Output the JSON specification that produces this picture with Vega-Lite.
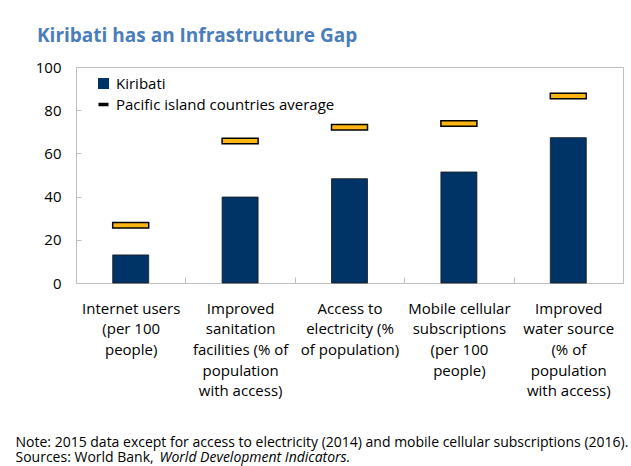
{
  "$schema": "https://vega.github.io/schema/vega-lite/v6.json",
  "autosize": "none",
  "width": 547,
  "height": 216,
  "padding": {"left": 76, "top": 67, "right": 8, "bottom": 183},
  "background": "white",
  "title": {
    "text": "Kiribati has an Infrastructure Gap",
    "anchor": "start",
    "frame": "group",
    "dx": -39,
    "offset": 14,
    "font": "Open Sans",
    "fontSize": 19,
    "fontWeight": "bold",
    "color": "#4A7EBB"
  },
  "config": {
    "font": "Open Sans",
    "view": {"stroke": "#BFBFBF", "strokeWidth": 1},
    "axis": {"labelFont": "Open Sans", "labelColor": "#000", "titleFont": "Open Sans", "titleColor": "#000"},
    "legend": {"labelFont": "Open Sans", "labelColor": "#000", "labelFontSize": 15, "labelLimit": 0, "padding": 0}
  },
  "data": {
    "values": [
      {"indicator": "Internet users (per 100 people)", "kiribati": 13, "pacific": 26.7},
      {"indicator": "Improved sanitation facilities (% of population with access)", "kiribati": 39.8, "pacific": 65.7},
      {"indicator": "Access to electricity (% of population)", "kiribati": 48.3, "pacific": 72.1},
      {"indicator": "Mobile cellular subscriptions (per 100 people)", "kiribati": 51.4, "pacific": 73.8},
      {"indicator": "Improved water source (% of population with access)", "kiribati": 67.3, "pacific": 86.6}
    ]
  },
  "encoding": {
    "x": {
      "field": "indicator",
      "type": "nominal",
      "sort": null,
      "scale": {"paddingInner": 0, "paddingOuter": 0},
      "axis": {
        "title": ["Note: 2015 data except for access to electricity (2014) and mobile cellular subscriptions (2016).", "Sources: World Bank,"],
        "titleFontSize": 14,
        "titleFontWeight": "normal",
        "titleAnchor": "start",
        "titleAlign": "left",
        "titleBaseline": "alphabetic",
        "titleLineHeight": 15.5,
        "titleX": -61,
        "titleY": 163,
        "domain": false,
        "tickBand": "extent",
        "tickSize": -6,
        "tickColor": "#BFBFBF",
        "labelAngle": 0,
        "labelFontSize": 15,
        "labelLineHeight": 20.7,
        "labelPadding": 24,
        "labelBaseline": "top",
        "labelLimit": 0,
        "labelExpr": "{'Internet users (per 100 people)': ['Internet users', '(per 100', 'people)'], 'Improved sanitation facilities (% of population with access)': ['Improved', 'sanitation', 'facilities (% of', 'population', 'with access)'], 'Access to electricity (% of population)': ['Access to', 'electricity (%', 'of population)'], 'Mobile cellular subscriptions (per 100 people)': ['Mobile cellular', 'subscriptions', '(per 100', 'people)'], 'Improved water source (% of population with access)': ['Improved', 'water source', '(% of', 'population', 'with access)']}[datum.value]"
      }
    }
  },
  "layer": [
    {
      "mark": {"type": "bar", "width": 36, "stroke": "#1a1a1a", "strokeWidth": 0.8},
      "encoding": {
        "y": {
          "field": "kiribati",
          "type": "quantitative",
          "scale": {"domain": [0, 100]},
          "axis": {
            "title": null,
            "values": [0, 20, 40, 60, 80, 100],
            "grid": false,
            "domain": false,
            "tickSize": -5,
            "tickColor": "#BFBFBF",
            "labelFontSize": 15,
            "labelPadding": 20
          }
        },
        "color": {
          "datum": "Kiribati",
          "type": "nominal",
          "scale": {"domain": ["Kiribati"], "range": ["#003366"]},
          "legend": {
            "title": null,
            "orient": "none",
            "legendX": 20,
            "legendY": 9,
            "symbolType": "square",
            "symbolSize": 121,
            "symbolFillColor": "#003366",
            "symbolStrokeWidth": 0,
            "labelOffset": 5
          }
        }
      }
    },
    {
      "mark": {"type": "tick", "size": 36, "thickness": 5.5, "fill": "#FFB612", "strokeWidth": 1.5, "opacity": 1, "fillOpacity": 1},
      "encoding": {
        "y": {
          "field": "pacific",
          "type": "quantitative",
          "scale": {"domain": [0, 100]},
          "axis": {
            "orient": "right",
            "title": "World Development Indicators.",
            "titleFontStyle": "italic",
            "titleFontWeight": "normal",
            "titleFontSize": 14,
            "titleAngle": 0,
            "titleAlign": "left",
            "titleBaseline": "alphabetic",
            "titleX": -464,
            "titleY": 394,
            "labels": false,
            "ticks": false,
            "domain": false,
            "grid": false
          }
        },
        "stroke": {
          "datum": "Pacific island countries average",
          "type": "nominal",
          "scale": {"domain": ["Pacific island countries average"], "range": ["#000000"]},
          "legend": {
            "title": null,
            "orient": "none",
            "legendX": 20,
            "legendY": 30,
            "symbolType": "stroke",
            "symbolSize": 100,
            "symbolStrokeColor": "#000000",
            "symbolStrokeWidth": 3.5,
            "labelOffset": 5
          }
        }
      }
    }
  ],
  "resolve": {"axis": {"y": "independent"}}
}
